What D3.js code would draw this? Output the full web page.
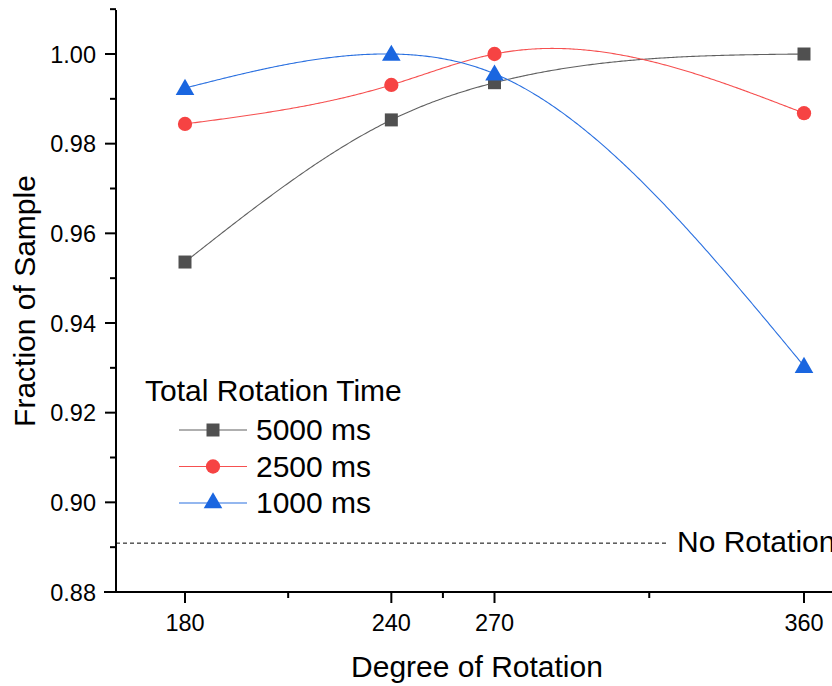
<!DOCTYPE html>
<html>
<head>
<meta charset="utf-8">
<script src="https://cdn.jsdelivr.net/npm/d3@7"></script>
<style>
  html, body { margin: 0; padding: 0; background: #fff; }
  svg { display: block; }
  text { font-family: "Liberation Sans", Arial, sans-serif; fill: #000; }
</style>
</head>
<body>
<script>
// Degrees of rotation tested
const degrees = [180, 240, 270, 360];

// Fraction of sample for each total rotation time
const series5000 = [0.9536, 0.9853, 0.9936, 1.0000];
const series2500 = [0.9844, 0.9931, 1.0000, 0.9868];
const series1000 = [0.9924, 1.0000, 0.9956, 0.9304];

const seriesNames = ["5000 ms", "2500 ms", "1000 ms"];
const noRotation = 0.8909;

// Axis ticks
const xMajorTicks = [180, 240, 270, 360];
const xMinorTicks = [210, 255, 315];
const yMajorTicks = [0.88, 0.90, 0.92, 0.94, 0.96, 0.98, 1.00];
const yMinorTicks = [0.89, 0.91, 0.93, 0.95, 0.97, 0.99, 1.01];

const W = 832, H = 686;
const plotLeft = 116, plotBottom = 592, plotTop = 10;
const bigFont = 30, tickFont = 23.5;

const svg = d3.select("body").append("svg").attr("width", W).attr("height", H);

const x = d3.scaleLinear().domain([180, 360]).range([185, 804]);
const y = d3.scaleLinear().domain([0.88, 1.00]).range([plotBottom, 54]);

// Natural cubic spline through (xs, ys), evaluated along the x direction
function naturalSpline(xs, ys) {
  const n = xs.length;
  const h = d3.range(n - 1).map(i => xs[i + 1] - xs[i]);
  const a = new Array(n).fill(0), b = new Array(n).fill(0),
        c = new Array(n).fill(0), r = new Array(n).fill(0);
  b[0] = 1; b[n - 1] = 1;
  for (let i = 1; i < n - 1; i++) {
    a[i] = h[i - 1];
    b[i] = 2 * (h[i - 1] + h[i]);
    c[i] = h[i];
    r[i] = 6 * ((ys[i + 1] - ys[i]) / h[i] - (ys[i] - ys[i - 1]) / h[i - 1]);
  }
  // Thomas algorithm
  for (let i = 1; i < n; i++) {
    const m = a[i] / b[i - 1];
    b[i] -= m * c[i - 1];
    r[i] -= m * r[i - 1];
  }
  const M = new Array(n).fill(0);
  M[n - 1] = r[n - 1] / b[n - 1];
  for (let i = n - 2; i >= 0; i--) M[i] = (r[i] - c[i] * M[i + 1]) / b[i];
  return function (t) {
    let i = 0;
    while (i < n - 2 && t > xs[i + 1]) i++;
    const hi = h[i], u = xs[i + 1] - t, v = t - xs[i];
    return M[i] * u * u * u / (6 * hi) + M[i + 1] * v * v * v / (6 * hi)
      + (ys[i] / hi - M[i] * hi / 6) * u + (ys[i + 1] / hi - M[i + 1] * hi / 6) * v;
  };
}

const colors = ["#505050", "#f64343", "#1a66e0"];
const lineColors = ["#606060", "#f65050", "#2a70e0"];
const allSeries = [series5000, series2500, series1000];

// No-rotation reference line
svg.append("line")
  .attr("x1", plotLeft).attr("x2", 667)
  .attr("y1", y(noRotation)).attr("y2", y(noRotation))
  .attr("stroke", "#000").attr("stroke-width", 1).attr("stroke-dasharray", "4,3");
svg.append("text")
  .attr("x", 677).attr("y", y(noRotation) + 9)
  .attr("font-size", bigFont).text("No Rotation");

// Curves
const line = d3.line().x(d => x(d[0])).y(d => y(d[1]));
allSeries.forEach((vals, k) => {
  const f = naturalSpline(degrees, vals);
  const pts = d3.range(180, 360.01, 0.5).map(t => [t, f(t)]);
  svg.append("path")
    .attr("d", line(pts))
    .attr("fill", "none")
    .attr("stroke", lineColors[k])
    .attr("stroke-width", 1.1);
});

// Marker shapes
const symbols = [d3.symbolSquare, d3.symbolCircle, d3.symbolTriangle];
const symbolSizes = [169, 160, 150];
function drawMarker(g, k, cx, cy) {
  const dy = k === 2 ? 1.5 : 0;
  g.append("path")
    .attr("d", d3.symbol().type(symbols[k]).size(symbolSizes[k])())
    .attr("transform", `translate(${cx},${cy + dy})`)
    .attr("fill", colors[k]);
}
allSeries.forEach((vals, k) => {
  const g = svg.append("g");
  vals.forEach((v, i) => drawMarker(g, k, x(degrees[i]), y(v)));
});

// Axes
const axisG = svg.append("g").attr("stroke", "#000").attr("stroke-width", 2);
axisG.append("line").attr("x1", plotLeft).attr("x2", plotLeft).attr("y1", plotTop).attr("y2", plotBottom);
axisG.append("line").attr("x1", plotLeft - 12).attr("x2", W + 5).attr("y1", plotBottom).attr("y2", plotBottom);

yMajorTicks.forEach(v => {
  axisG.append("line").attr("x1", plotLeft - 11).attr("x2", plotLeft).attr("y1", y(v)).attr("y2", y(v));
  svg.append("text")
    .attr("x", 96).attr("y", y(v) + 8.5)
    .attr("text-anchor", "end").attr("font-size", tickFont)
    .text(d3.format(".2f")(v));
});
yMinorTicks.forEach(v => {
  axisG.append("line").attr("x1", plotLeft - 6).attr("x2", plotLeft).attr("y1", y(v)).attr("y2", y(v));
});
xMajorTicks.forEach(v => {
  axisG.append("line").attr("x1", x(v)).attr("x2", x(v)).attr("y1", plotBottom).attr("y2", plotBottom + 11);
  svg.append("text")
    .attr("x", x(v)).attr("y", 631)
    .attr("text-anchor", "middle").attr("font-size", tickFont)
    .text(v);
});
xMinorTicks.forEach(v => {
  axisG.append("line").attr("x1", x(v)).attr("x2", x(v)).attr("y1", plotBottom).attr("y2", plotBottom + 6);
});

// Axis titles
svg.append("text")
  .attr("x", 477).attr("y", 677)
  .attr("text-anchor", "middle").attr("font-size", bigFont)
  .text("Degree of Rotation");
svg.append("text")
  .attr("transform", "translate(35,301) rotate(-90)")
  .attr("text-anchor", "middle").attr("font-size", bigFont)
  .text("Fraction of Sample");

// Legend
svg.append("text").attr("x", 145).attr("y", 401).attr("font-size", bigFont).text("Total Rotation Time");
const legendY = [430, 466.5, 503];
seriesNames.forEach((name, k) => {
  const g = svg.append("g");
  g.append("line")
    .attr("x1", 179).attr("x2", 247)
    .attr("y1", legendY[k]).attr("y2", legendY[k])
    .attr("stroke", lineColors[k]).attr("stroke-width", 1.1);
  drawMarker(g, k, 213, legendY[k] - (k === 2 ? 1.5 : 0));
  svg.append("text").attr("x", 256).attr("y", legendY[k] + 10).attr("font-size", bigFont).text(name);
});
</script>
</body>
</html>
